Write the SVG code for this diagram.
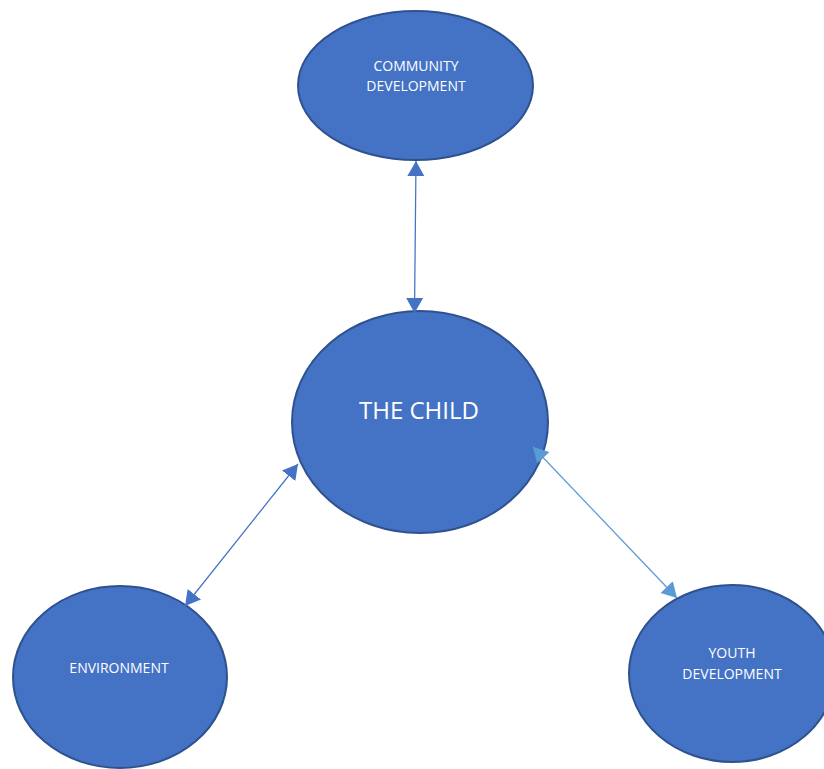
<svg xmlns="http://www.w3.org/2000/svg" width="824" height="769" viewBox="0 0 824 769">
<style>
.node{fill:#4472C4;stroke:#2F528F;stroke-width:2}
.lbl{fill:#FFFFFF;font-family:"Open Sans","Noto Sans","Liberation Sans",sans-serif;font-size:14px;text-anchor:middle}
.big{font-size:24px}
.c1{stroke:#4472C4;stroke-width:1.25;fill:none}
.c2{stroke:#5B9BD5;stroke-width:1.25;fill:none}
</style>
<defs>
<marker id="a1" markerUnits="userSpaceOnUse" markerWidth="16" markerHeight="18" refX="15" refY="8.5" orient="auto-start-reverse" viewBox="0 0 16 17">
<path d="M0,0 L15,8.5 L0,17 z" fill="#4472C4"/>
</marker>
<marker id="a2" markerUnits="userSpaceOnUse" markerWidth="16" markerHeight="18" refX="15" refY="8.5" orient="auto-start-reverse" viewBox="0 0 16 17">
<path d="M0,0 L15,8.5 L0,17 z" fill="#5B9BD5"/>
</marker>
</defs>
<rect width="824" height="769" fill="#FFFFFF"/>
<g id="community">
<ellipse class="node" cx="415.5" cy="85.5" rx="117.5" ry="74.5"/>
<text class="lbl" x="416" y="71">COMMUNITY</text>
<text class="lbl" x="416" y="91">DEVELOPMENT</text>
</g>
<g id="child">
<ellipse class="node" cx="420" cy="422" rx="128" ry="111"/>
<text class="lbl big" x="419" y="419">THE CHILD</text>
</g>
<g id="environment">
<ellipse class="node" cx="120" cy="677" rx="107" ry="91"/>
<text class="lbl" x="119" y="673">ENVIRONMENT</text>
</g>
<g id="youth">
<ellipse class="node" cx="732" cy="673.5" rx="103" ry="88.5"/>
<text class="lbl" x="732" y="658">YOUTH</text>
<text class="lbl" x="732" y="679">DEVELOPMENT</text>
</g>
<g id="connectors">
<line class="c1" x1="416" y1="161" x2="414.5" y2="313" marker-start="url(#a1)" marker-end="url(#a1)"/>
<line class="c1" x1="298" y1="464" x2="185" y2="606" marker-start="url(#a1)" marker-end="url(#a1)"/>
<line class="c2" x1="533" y1="447" x2="677" y2="598" marker-start="url(#a2)" marker-end="url(#a2)"/>
</g>
</svg>
